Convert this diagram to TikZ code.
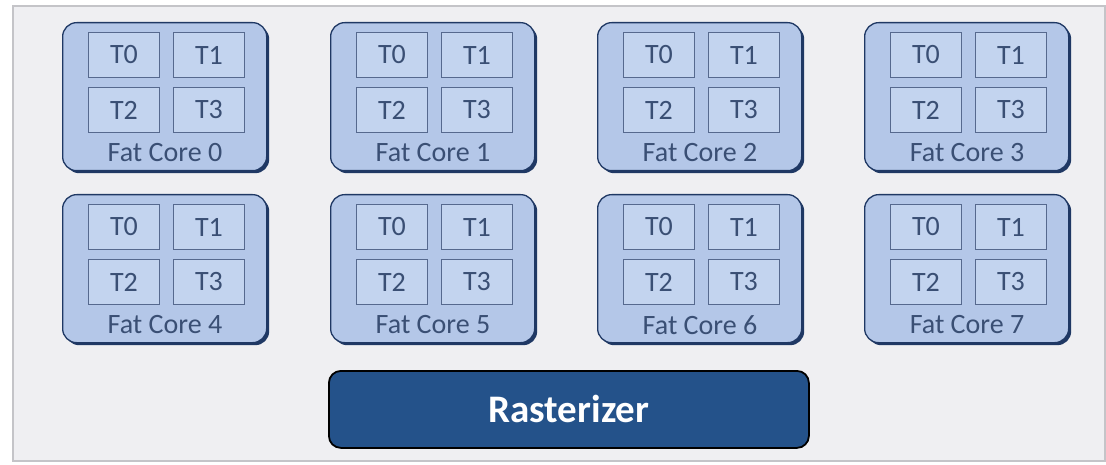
\documentclass[tikz,border=0pt]{standalone}
\usepackage{fontspec}
\setmainfont{Carlito}
\definecolor{bgfill}{HTML}{EFEFF2}
\definecolor{bgline}{HTML}{C4C4C8}
\definecolor{corefill}{HTML}{B4C7E8}
\definecolor{coreline}{HTML}{1F3864}
\definecolor{tfill}{HTML}{C3D4EF}
\definecolor{tline}{HTML}{56698E}
\definecolor{txt}{HTML}{3A4F74}
\definecolor{rastfill}{HTML}{24528A}
\tikzset{
  corebox/.style={draw=coreline, line width=1.3pt, fill=corefill, rounded corners=14pt,
    minimum width=204pt, minimum height=148pt, inner sep=0pt, anchor=north west},
  coreshadow/.style={fill=coreline, rounded corners=14pt, minimum width=204pt,
    minimum height=148pt, inner sep=0pt, anchor=north west, draw=none},
  tbox/.style={draw=tline, line width=1pt, fill=tfill, minimum width=71pt,
    minimum height=45pt, inner sep=0pt, anchor=north west, text=txt,
    font=\fontsize{28}{28}\selectfont},
  corelabel/.style={text=txt, font=\fontsize{28}{28}\selectfont, inner sep=0pt},
  rastbox/.style={draw=black, line width=1.8pt, fill=rastfill, rounded corners=12pt,
    minimum width=480pt, minimum height=77pt, inner sep=0pt, anchor=north west,
    text=white, font=\fontsize{39}{39}\selectfont\bfseries}
}
\begin{document}
\begin{tikzpicture}[x=1pt,y=-1pt]
\useasboundingbox (0,0) rectangle (1106,465);
\fill[white] (0,0) rectangle (1106,465);
\node[draw=bgline, line width=2pt, fill=bgfill, minimum width=1092pt, minimum height=455pt,
  inner sep=0pt, anchor=north west] (frame) at (12,5) {};
\foreach \i/\x/\y in {0/62/22,1/330/22,2/597/22,3/864/22,4/62/194,5/330/194,6/597/194,7/864/194}{
  \node[coreshadow] (s\i) at (\x+3,\y+3) {};
  \node[corebox] (c\i) at (\x,\y) {};
  \node[tbox] (c\i t0) at (\x+26,\y+10) {T0};
  \node[tbox] (c\i t1) at (\x+111,\y+10) {T1};
  \node[tbox] (c\i t2) at (\x+26,\y+65) {T2};
  \node[tbox] (c\i t3) at (\x+111,\y+65) {T3};
  \node[corelabel] (l\i) at (\x+103,\y+131) {Fat Core \i};
}
\node[rastbox] (rast) at (328,370) {Rasterizer};
\end{tikzpicture}
\end{document}
